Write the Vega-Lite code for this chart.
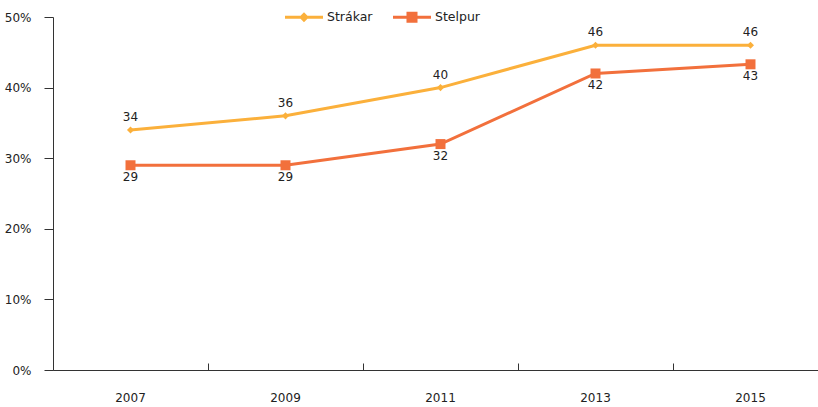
{
  "$schema": "https://vega.github.io/schema/vega-lite/v6.json",
  "width": 765,
  "height": 353,
  "autosize": {"type": "none"},
  "padding": {"left": 53, "top": 17, "right": 0, "bottom": 37},
  "background": "white",
  "config": {
    "view": {"stroke": null},
    "font": "DejaVu Sans",
    "axis": {"grid": false, "domainColor": "#333333", "tickColor": "#333333", "labelColor": "#222222", "labelFont": "DejaVu Sans", "labelFontSize": 12}
  },
  "data": {
    "values": [
      {"year": "2007", "series": "Strákar", "value": 34},
      {"year": "2009", "series": "Strákar", "value": 36},
      {"year": "2011", "series": "Strákar", "value": 40},
      {"year": "2013", "series": "Strákar", "value": 46},
      {"year": "2015", "series": "Strákar", "value": 46},
      {"year": "2007", "series": "Stelpur", "value": 29},
      {"year": "2009", "series": "Stelpur", "value": 29},
      {"year": "2011", "series": "Stelpur", "value": 32},
      {"year": "2013", "series": "Stelpur", "value": 42},
      {"year": "2015", "series": "Stelpur", "value": 43.3}
    ]
  },
  "encoding": {
    "x": {
      "field": "year", "type": "ordinal", "title": null,
      "scale": {"type": "band", "paddingInner": 0, "paddingOuter": 0, "range": [0, 775]},
      "axis": {"labelAngle": 0, "bandPosition": 0, "tickSize": -7, "labelPadding": 34, "domainWidth": 1, "labelBaseline": "middle"}
    },
    "y": {
      "field": "value", "type": "quantitative", "title": null,
      "scale": {"domain": [0, 50], "nice": false},
      "axis": {"values": [0, 10, 20, 30, 40, 50], "labelExpr": "datum.value + '%'", "tickSize": 9, "labelPadding": 13}
    },
    "color": {
      "field": "series", "type": "nominal", "sort": ["Strákar", "Stelpur"],
      "scale": {"domain": ["Strákar", "Stelpur"], "range": ["#FBB03B", "#F2703C"]},
      "legend": {
        "title": null, "orient": "none", "direction": "horizontal",
        "legendX": 232, "legendY": -19, "padding": 0,
        "symbolSize": 1444, "symbolStrokeWidth": 0, "symbolOpacity": 1,
        "labelFontSize": 12.5, "labelFont": "DejaVu Sans", "labelColor": "#222222", "labelOffset": 4, "columnPadding": 20,
        "encode": {
          "symbols": {
            "update": {
              "shape": {"signal": "datum.value === 'Strákar' ? 'M-1,-0.08H1V0.08H-1Z M0,-0.26L0.26,0L0,0.26L-0.26,0Z' : 'M-1,-0.08H1V0.08H-1Z M-0.29,-0.29H0.29V0.29H-0.29Z'"},
              "fill": {"signal": "scale('color', datum.value)"},
              "stroke": {"value": "transparent"}
            }
          }
        }
      }
    }
  },
  "layer": [
    {"mark": {"type": "line", "strokeWidth": 3}},
    {
      "transform": [{"filter": "datum.series === 'Strákar'"}],
      "mark": {"type": "point", "filled": true, "opacity": 1, "shape": "diamond", "size": 50}
    },
    {
      "transform": [{"filter": "datum.series === 'Stelpur'"}],
      "mark": {"type": "point", "filled": true, "opacity": 1, "shape": "square", "size": 100}
    },
    {
      "transform": [{"filter": "datum.series === 'Strákar'"}],
      "mark": {"type": "text", "dy": -13, "fontSize": 12, "font": "DejaVu Sans"},
      "encoding": {"text": {"field": "value", "type": "quantitative", "format": ".0f"}, "color": {"value": "#222222"}}
    },
    {
      "transform": [{"filter": "datum.series === 'Stelpur'"}],
      "mark": {"type": "text", "dy": 12, "fontSize": 12, "font": "DejaVu Sans"},
      "encoding": {"text": {"field": "value", "type": "quantitative", "format": ".0f"}, "color": {"value": "#222222"}}
    }
  ]
}
